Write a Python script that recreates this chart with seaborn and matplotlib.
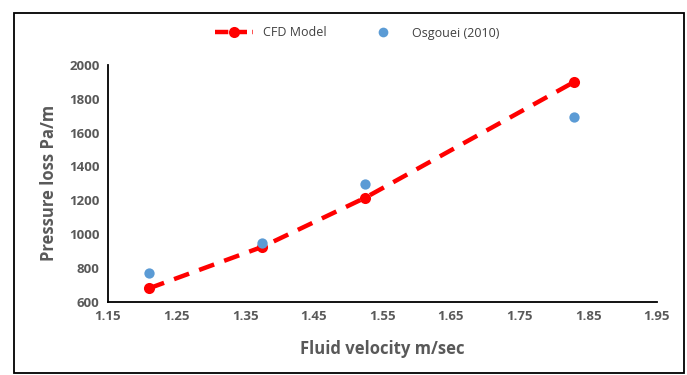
import numpy as np
import pandas as pd
import matplotlib
matplotlib.use("Agg")
import matplotlib.pyplot as plt
import seaborn as sns
from matplotlib.patches import Rectangle
from matplotlib.lines import Line2D

# Duomenys
velocity = [1.21, 1.375, 1.525, 1.83]
cfd_loss = [680, 925, 1215, 1900]
osgouei_loss = [770, 945, 1295, 1690]

x_ticks = [1.15, 1.25, 1.35, 1.45, 1.55, 1.65, 1.75, 1.85, 1.95]
y_ticks = [600, 800, 1000, 1200, 1400, 1600, 1800, 2000]

sns.set_style("white")
plt.rcParams['font.family'] = ['Open Sans', 'DejaVu Sans']

df = pd.DataFrame({'v': velocity, 'cfd': cfd_loss, 'osg': osgouei_loss})

fig = plt.figure(figsize=(6.87, 3.75), dpi=100)
ax = fig.add_axes([0.157, 0.195, 0.799, 0.632])

red = '#FF0000'
blue = '#5B9BD5'
gray = '#595959'

sns.lineplot(data=df, x='v', y='cfd', ax=ax, color=red, linewidth=3.2,
             dashes=False, linestyle=(0, (3.6, 2.4)), marker='o', markersize=8,
             markeredgewidth=0, markerfacecolor=red)
sns.scatterplot(data=df, x='v', y='osg', ax=ax, color=blue, s=55,
                linewidth=0, zorder=3)

ax.set_xlim(1.15, 1.95)
ax.set_ylim(600, 2000)
ax.set_xticks(x_ticks)
ax.set_yticks(y_ticks)
ax.set_xticklabels([f'{t:.2f}' for t in x_ticks])
ax.tick_params(axis='both', length=0, labelsize=9.5, labelcolor=gray, pad=6)
for lab in ax.get_xticklabels() + ax.get_yticklabels():
    lab.set_fontweight('bold')

ax.set_xlabel('Fluid velocity m/sec', fontsize=12, color=gray,
              fontweight='bold', labelpad=12)
ax.set_ylabel('Pressure loss Pa/m', fontsize=12, color=gray,
              fontweight='bold', labelpad=8)

for side in ['top', 'right']:
    ax.spines[side].set_visible(False)
for side in ['left', 'bottom']:
    ax.spines[side].set_color('black')
    ax.spines[side].set_linewidth(1.3)

handles = [
    Line2D([0], [0], color=red, linewidth=3.2, linestyle=(0, (3, 1.2)),
           marker='o', markersize=8, markeredgewidth=0),
    Line2D([0], [0], color=blue, linestyle='none', marker='o', markersize=7,
           markeredgewidth=0),
]
fig.legend(handles, ['CFD Model', 'Osgouei (2010)'], loc='center',
           bbox_to_anchor=(0.52, 0.912), ncol=2, frameon=False, fontsize=9,
           handlelength=3, columnspacing=3, labelcolor='#404040')

# Ramelis aplink diagrama
fig.patches.append(Rectangle((14 / 687, 0.005), 670 / 687, 1 - 13 / 375 - 0.005,
                             transform=fig.transFigure, fill=False,
                             edgecolor='black', linewidth=1.3))

fig.savefig('out.png', dpi=100)
